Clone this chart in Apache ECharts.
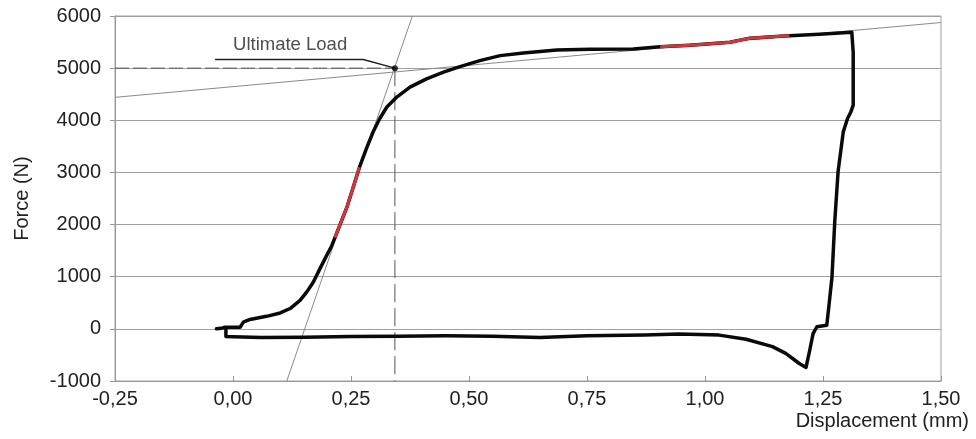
<!DOCTYPE html>
<html>
<head>
<meta charset="utf-8">
<script src="https://cdn.jsdelivr.net/npm/echarts@6/dist/echarts.min.js"></script>
<style>
html,body{margin:0;padding:0;background:#fff;}
#main{width:976px;height:439px;}
</style>
</head>
<body>
<div id="main"></div>
<script>
// ---- data ----
var xTicks = [-0.25, 0, 0.25, 0.5, 0.75, 1.0, 1.25, 1.5];
var xTickLabels = ['-0,25', '0,00', '0,25', '0,50', '0,75', '1,00', '1,25', '1,50'];
var yTicks = [-1000, 0, 1000, 2000, 3000, 4000, 5000, 6000];
var yTickLabels = ['-1000', '0', '1000', '2000', '3000', '4000', '5000', '6000'];

// full load-displacement loop (mm, N)
var curveX = [-0.035, -0.025, -0.017, 0.000, 0.015, 0.022, 0.036, 0.071, 0.100, 0.121, 0.142, 0.156, 0.170, 0.184, 0.198, 0.209, 0.216,
  0.242, 0.268, 0.283, 0.297, 0.311, 0.326, 0.347, 0.375, 0.410, 0.446, 0.481, 0.523, 0.566, 0.615, 0.686, 0.756, 0.848, 0.905,
  0.968, 1.053, 1.095, 1.159, 1.179, 1.242, 1.311, 1.314, 1.314, 1.309, 1.302, 1.293, 1.282, 1.275, 1.269, 1.263, 1.258,
  1.237, 1.229, 1.222, 1.214, 1.199, 1.171, 1.143, 1.087, 1.030, 0.945, 0.872, 0.750, 0.650, 0.550, 0.450, 0.350, 0.250, 0.150, 0.060, 0.000, -0.015, -0.015];
var curveY = [0, 10, 30, 30, 30, 130, 180, 240, 305, 390, 545, 705, 895, 1150, 1400, 1590, 1750,
  2350, 3100, 3465, 3780, 4035, 4255, 4445, 4635, 4795, 4925, 5030, 5145, 5240, 5290, 5350, 5360, 5365, 5410,
  5440, 5495, 5575, 5610, 5620, 5650, 5690, 5300, 4290, 4160, 4035, 3780, 3020, 2070, 990, 480, 70,
  40, -90, -405, -740, -660, -470, -340, -200, -120, -100, -120, -130, -165, -140, -130, -140, -145, -160, -165, -150, -145, 20];

// red highlighted fitting ranges
var red1X = [0.216, 0.242, 0.268];
var red1Y = [1750, 2350, 3100];
var red2X = [0.905, 0.968, 1.053, 1.095, 1.159, 1.179];
var red2Y = [5410, 5440, 5495, 5575, 5610, 5620];

// construction lines
var stiffX = [0.114, 0.380];
var stiffY = [-1000, 6000];
var plateauX = [-0.25, 1.5];
var plateauY = [4440, 5875];

var ultimateX = 0.343;
var ultimateY = 5000;
var leaderX = [-0.038, 0.276, 0.343];
var leaderY = [5165, 5165, 5000];
var annotText = 'Ultimate Load';
var annotPos = [0.121, 5440];

var xName = 'Displacement (mm)';
var yName = 'Force (N)';

function pairs(xs, ys) { return xs.map(function (x, i) { return [x, ys[i]]; }); }

var chart = echarts.init(document.getElementById('main'), null, {renderer: 'canvas'});
var FONT = 'Liberation Sans, Arial, sans-serif';
var option = {
  animation: false,
  backgroundColor: '#fff',
  grid: {left: 115, right: 35, top: 16, bottom: 58, show: true, borderColor: '#a0a0a0', borderWidth: 1},
  xAxis: {
    type: 'value', min: xTicks[0], max: xTicks[xTicks.length - 1], interval: 0.25,
    name: xName, nameLocation: 'end', nameGap: 28,
    nameTextStyle: {fontFamily: FONT, fontSize: 20, color: '#222', align: 'right', verticalAlign: 'top', padding: [30, 0, 0, 0]},
    axisLine: {onZero: false, lineStyle: {color: '#999', width: 1}},
    axisTick: {inside: true, length: 5, lineStyle: {color: '#999'}},
    splitLine: {show: false},
    axisLabel: {fontFamily: FONT, fontSize: 20, color: '#222', margin: 8,
      formatter: function (v) { var i = Math.round((v - xTicks[0]) / 0.25); return xTickLabels[i]; }}
  },
  yAxis: {
    type: 'value', min: yTicks[0], max: yTicks[yTicks.length - 1], interval: 1000,
    name: yName, nameLocation: 'middle', nameGap: 83,
    nameTextStyle: {fontFamily: FONT, fontSize: 20, color: '#222'},
    axisLine: {onZero: false, lineStyle: {color: '#999', width: 1}},
    axisTick: {inside: false, length: 5, lineStyle: {color: '#999'}},
    splitLine: {show: true, lineStyle: {color: '#a0a0a0', width: 1}},
    axisLabel: {fontFamily: FONT, fontSize: 20, color: '#222', margin: 14,
      formatter: function (v) { var i = Math.round((v - yTicks[0]) / 1000); return yTickLabels[i]; }}
  },
  series: [
    {type: 'line', data: pairs(stiffX, stiffY), symbol: 'none', lineStyle: {color: '#8a8a8a', width: 1}, z: 2, silent: true},
    {type: 'line', data: pairs(plateauX, plateauY), symbol: 'none', lineStyle: {color: '#8a8a8a', width: 1}, z: 2, silent: true},
    {type: 'line', data: [[xTicks[0], ultimateY], [ultimateX, ultimateY]], symbol: 'none',
      lineStyle: {color: '#555', width: 1, type: [14, 4]}, z: 3, silent: true},
    {type: 'line', data: [[ultimateX, ultimateY], [ultimateX, yTicks[0]]], symbol: 'none',
      lineStyle: {color: '#555', width: 1, type: [18, 6]}, z: 3, silent: true},
    {type: 'line', data: pairs(curveX, curveY), symbol: 'none', lineStyle: {color: '#0a0a0a', width: 3.5, join: 'round', cap: 'round'}, z: 4, silent: true},
    {type: 'line', data: pairs(red1X, red1Y), symbol: 'none', lineStyle: {color: '#d4343a', width: 3}, z: 5, silent: true},
    {type: 'line', data: pairs(red2X, red2Y), symbol: 'none', lineStyle: {color: '#d4343a', width: 3}, z: 5, silent: true},
    {type: 'line', data: pairs(leaderX, leaderY), symbol: 'none', lineStyle: {color: '#222', width: 1.5}, z: 6, silent: true},
    {type: 'scatter', data: [[ultimateX, ultimateY]], symbol: 'circle', symbolSize: 6, itemStyle: {color: '#000'}, z: 7, silent: true},
    {type: 'scatter', data: [annotPos], symbolSize: 0, z: 7, silent: true,
      label: {show: true, position: 'inside', formatter: annotText, fontFamily: FONT, fontSize: 18.5, color: '#222'}}
  ]
};
chart.setOption(option);
</script>
</body>
</html>
